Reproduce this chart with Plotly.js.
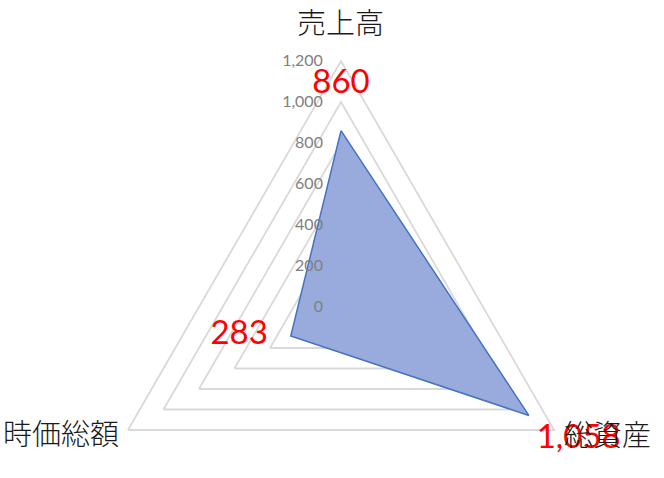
<!DOCTYPE html>
<html>
<head>
<meta charset="utf-8">
<script src="https://cdn.plot.ly/plotly-3.0.1.min.js"></script>
<style>
  html, body { margin: 0; padding: 0; overflow: hidden; background: #fff; }
  #chart { width: 664px; height: 560px; }
</style>
</head>
<body>
<div id="chart"></div>
<script>
// data
const categories = ['売上高', '総資産', '時価総額'];
const values = [860, 1058, 283];
const radialTicks = [0, 200, 400, 600, 800, 1000, 1200];

// label offsets (marker radius pushes the text away from the point)
const labelPositions = ['top center', 'bottom right', 'middle left'];
const labelPads = [46, 11, 35];

const H = 560; // taller than the window so the radar can sit low, bottom gets cut off
const polarDomain = { x: [95 / 664, 587 / 664], y: [1 - 553 / H, 1 - 61 / H] };

const numFont = 'Lato, "Liberation Sans", sans-serif';
const jpFont = '"Noto Sans CJK JP", sans-serif';

const closedTheta = categories.concat(categories[0]);
const closedR = values.concat(values[0]);

const traces = [
  {
    type: 'scatterpolar',
    theta: closedTheta,
    r: closedR,
    mode: 'lines',
    fill: 'toself',
    fillcolor: '#98abdc',
    line: { color: '#4472c4', width: 1.5 },
    hoverinfo: 'skip',
    showlegend: false
  },
  {
    type: 'scatterpolar',
    theta: categories,
    r: values,
    mode: 'markers+text',
    text: values.map(v => v.toLocaleString('en-US')),
    textposition: labelPositions,
    textfont: { family: numFont, size: 33, color: '#ff0000' },
    marker: { size: labelPads, color: 'rgba(0,0,0,0)', opacity: 0, line: { width: 0 } },
    cliponaxis: false,
    hoverinfo: 'skip',
    showlegend: false
  },
  // empty trace so the overlay subplot (radial tick labels on top) gets drawn
  {
    type: 'scatterpolar',
    subplot: 'polar2',
    theta: [],
    r: [],
    mode: 'lines',
    hoverinfo: 'skip',
    showlegend: false
  }
];

// category names sit at the triangle corners
const catLabelPos = [
  { x: 340, y: 21, anchor: 'center' },
  { x: 562, y: 433, anchor: 'left' },
  { x: 121, y: 432, anchor: 'right' }
];

const layout = {
  width: 664,
  height: H,
  margin: { l: 0, r: 0, t: 0, b: 0 },
  paper_bgcolor: '#ffffff',
  showlegend: false,
  polar: {
    domain: polarDomain,
    gridshape: 'linear',
    bgcolor: 'rgba(0,0,0,0)',
    radialaxis: {
      range: [0, 1200],
      tickvals: radialTicks,
      angle: 90,
      showticklabels: false,
      showline: false,
      ticks: '',
      gridcolor: '#d9d9d9',
      gridwidth: 1.8,
      layer: 'below traces'
    },
    angularaxis: {
      type: 'category',
      categoryarray: categories,
      direction: 'clockwise',
      rotation: 90,
      showgrid: false,
      showline: true,
      linecolor: '#d9d9d9',
      linewidth: 1.8,
      ticks: '',
      showticklabels: false,
      layer: 'below traces'
    }
  },
  polar2: {
    domain: polarDomain,
    gridshape: 'linear',
    bgcolor: 'rgba(0,0,0,0)',
    radialaxis: {
      range: [0, 1200],
      tickvals: radialTicks,
      tickformat: ',d',
      angle: 90,
      side: 'counterclockwise',
      tickangle: 90,
      showgrid: false,
      showline: false,
      ticks: 'outside',
      ticklen: 12,
      tickcolor: 'rgba(0,0,0,0)',
      layer: 'above traces',
      tickfont: { family: numFont, size: 16, color: '#808080' }
    },
    angularaxis: {
      type: 'category',
      categoryarray: categories,
      direction: 'clockwise',
      rotation: 90,
      showgrid: false,
      showline: false,
      showticklabels: false,
      ticks: ''
    }
  },
  annotations: categories.map((c, i) => ({
    text: c,
    xref: 'paper',
    yref: 'paper',
    x: catLabelPos[i].x / 664,
    y: 1 - catLabelPos[i].y / H,
    xanchor: catLabelPos[i].anchor,
    yanchor: 'middle',
    showarrow: false,
    font: { family: jpFont, size: 29, color: '#1a1a1a', weight: 300 }
  }))
};

Plotly.newPlot('chart', traces, layout, { staticPlot: true });
</script>
</body>
</html>
